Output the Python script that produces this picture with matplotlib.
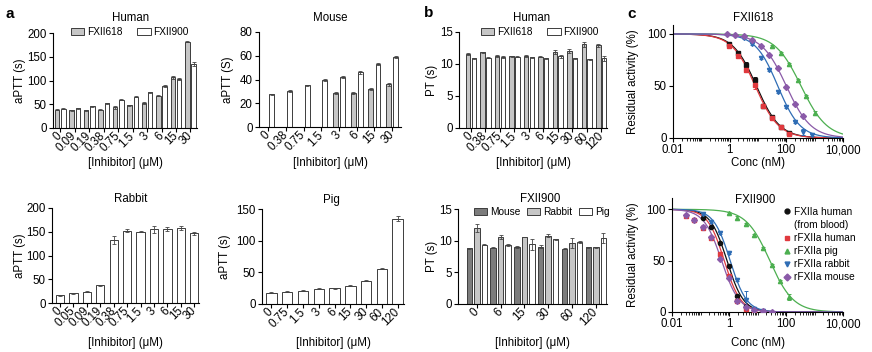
"""Inhibitor panels: clotting times (a, b) and residual FXIIa activity (c)."""

import matplotlib.pyplot as plt
import numpy as np
from matplotlib.lines import Line2D
from matplotlib.patches import Patch
from matplotlib.ticker import FixedLocator, LogLocator, NullFormatter
from matplotlib.transforms import ScaledTranslation

plt.rcParams["font.family"] = ["Liberation Sans", "DejaVu Sans"]
plt.rcParams["axes.linewidth"] = 0.8

FIG_W = 872
FIG_H = 352
TICK_FONTSIZE = 8.3
LABEL_FONTSIZE = 8.3
TITLE_FONTSIZE = 8.3
LEGEND_FONTSIZE = 7.3
LETTER_FONTSIZE = 11

GRAY = "#c6c6c6"
DARK_GRAY = "#7c7c7c"
WHITE = "#ffffff"
EDGE = "#3c3c3c"
C_BLACK = "#111111"
C_RED = "#e0393e"
C_GREEN = "#4caf50"
C_BLUE = "#2f6db5"
C_PURPLE = "#8a5aa8"

NAN = np.nan

# ---- a: aPTT ----
A_HUMAN_CONC = ["0", "0.09", "0.19", "0.38", "0.75", "1.5", "3", "6", "15", "30"]
A_HUMAN_FXII618 = [38.5, 37, 37, 38.5, 44, 48, 53, 68, 107, 182]
A_HUMAN_FXII618_ERR = [1.5, 1, 1, 1, 3, 1, 1.5, 1.5, 3, 1.5]
A_HUMAN_FXII900 = [40.5, 42, 46, 52.5, 60, 66, 75, 88, 103, 134]
A_HUMAN_FXII900_ERR = [1.5, 1, 1, 1, 1, 1, 1.5, 2, 1.5, 4]

A_MOUSE_CONC = ["0", "0.38", "0.75", "1.5", "3", "6", "15", "30"]
A_MOUSE_FXII618 = [NAN, NAN, NAN, NAN, 28.5, 28.5, 32, 36]
A_MOUSE_FXII618_ERR = [0, 0, 0, 0, 0.8, 0.6, 0.6, 1.2]
A_MOUSE_FXII900 = [27.6, 30.4, 35, 39.7, 42, 46.2, 53, 59]
A_MOUSE_FXII900_ERR = [0.6, 0.6, 0.6, 0.8, 0.8, 1.2, 1.2, 0.8]

A_RABBIT_CONC = ["0", "0.05", "0.09", "0.19", "0.38", "0.75", "1.5", "3", "6", "15", "30"]
A_RABBIT_FXII900 = [16.7, 20.9, 23.7, 37, 133, 152.5, 150.5, 155, 156, 157.5, 147]
A_RABBIT_FXII900_ERR = [1, 1, 1, 1.5, 9, 3, 1, 7, 4, 4, 3]

A_PIG_CONC = ["0", "0.75", "1.5", "3", "6", "15", "30", "60", "120"]
A_PIG_FXII900 = [18, 19.5, 21, 23.7, 24.7, 29, 37, 56, 135]
A_PIG_FXII900_ERR = [0.5, 0.5, 0.5, 0.8, 0.8, 0.5, 1, 1.5, 4]

# ---- b: PT ----
B_HUMAN_CONC = ["0", "0.38", "0.75", "1.5", "3", "6", "15", "30", "60", "120"]
B_HUMAN_FXII618 = [11.5, 11.85, 11.25, 11.2, 11.2, 11.15, 11.85, 12.0, 13.05, 12.9]
B_HUMAN_FXII618_ERR = [0.15, 0.1, 0.2, 0.1, 0.15, 0.1, 0.3, 0.3, 0.35, 0.3]
B_HUMAN_FXII900 = [10.9, 11.0, 11.1, 11.15, 11.05, 10.9, 11.2, 10.9, 10.75, 10.9]
B_HUMAN_FXII900_ERR = [0.1, 0.1, 0.1, 0.1, 0.1, 0.1, 0.25, 0.1, 0.1, 0.4]

B_FXII900_CONC = ["0", "6", "15", "30", "60", "120"]
B_MOUSE = [8.8, 8.9, 9.0, 9.05, 8.75, 8.95]
B_MOUSE_ERR = [0.1, 0.1, 0.15, 0.2, 0.1, 0.1]
B_RABBIT = [12.0, 10.6, 10.6, 10.8, 9.7, 8.95]
B_RABBIT_ERR = [0.7, 0.3, 0.05, 0.25, 0.8, 0.1]
B_PIG = [9.35, 9.3, 9.4, 10.2, 9.8, 10.4]
B_PIG_ERR = [0.1, 0.1, 0.9, 0.1, 0.2, 0.8]

# ---- c: residual activity (%) vs conc (nM) ----
C618_BLACK_X = [0.98, 1.95, 3.9, 7.8, 15.6, 31.25, 62.5, 125]
C618_BLACK_Y = [90, 81.5, 70, 56, 31, 20, 11, 5]
C618_BLACK_ERR = [1, 1.5, 3, 3, 1, 1, 1, 1]
C618_RED_X = [0.98, 1.95, 3.9, 7.8, 15.6, 31.25, 62.5, 125]
C618_RED_Y = [88.5, 79, 65.5, 51, 30.5, 19.5, 10.5, 4.2]
C618_RED_ERR = [2, 2, 2, 4, 2, 2, 1, 1]
C618_GREEN_X = [31.25, 62.5, 125, 250, 500, 1000]
C618_GREEN_Y = [88, 82, 71, 56, 40, 24]
C618_GREEN_ERR = [1, 1, 1, 1, 1, 2]
C618_BLUE_X = [3.125, 6.25, 12.5, 25, 50, 100, 200, 400, 800]
C618_BLUE_Y = [96, 90, 77, 65, 44, 30, 15, 6, 3]
C618_BLUE_ERR = [1, 1, 1, 1, 1, 1, 1, 3, 1]
C618_PURPLE_X = [0.78, 1.56, 3.125, 6.25, 12.5, 25, 50, 100, 200, 400]
C618_PURPLE_Y = [100, 99, 98, 94.5, 88, 80, 67, 49, 33, 21]
C618_PURPLE_ERR = [0.5, 0.5, 0.5, 1, 1, 1, 1, 1, 1, 1]

C900_BLACK_X = [0.12, 0.24, 0.49, 0.98, 1.95, 3.9, 7.8]
C900_BLACK_Y = [92, 83, 67, 45, 16, 6, 2]
C900_BLACK_ERR = [1, 1, 1, 1.5, 1, 1, 0.5]
C900_RED_X = [0.03, 0.06, 0.12, 0.24, 0.49, 0.98, 1.95, 3.9, 7.8, 15.6]
C900_RED_Y = [93, 90, 82, 72, 56, 35, 11, 3, 1, 0]
C900_RED_ERR = [1, 2, 2, 2, 2, 2, 2, 1, 0.5, 0.5]
C900_GREEN_X = [0.98, 1.95, 3.9, 7.8, 15.6, 31.25, 62.5, 125]
C900_GREEN_Y = [96, 92, 86, 75, 62, 46, 30, 15]
C900_GREEN_ERR = [1, 1, 1, 1, 1, 1, 1.5, 3]
C900_BLUE_X = [0.12, 0.24, 0.49, 0.98, 1.95, 3.9, 7.8, 15.6]
C900_BLUE_Y = [95, 88, 77, 57, 31, 12, 3, 1]
C900_BLUE_ERR = [1, 1, 1, 1, 1, 8, 1, 0.5]
C900_PURPLE_X = [0.03, 0.06, 0.12, 0.24, 0.49, 0.98, 1.95, 3.9, 7.8, 15.6, 31.25]
C900_PURPLE_Y = [94, 90, 83, 73, 52, 33, 11, 5, 2, 1, 0]
C900_PURPLE_ERR = [1, 1, 2, 1, 1, 1, 1, 1, 0.5, 0.5, 0.5]

# fitted curves: (IC50 nM, Hill slope)
FIT618 = {"black": (8.8, 1.05), "red": (8.0, 1.05), "green": (330, 0.95),
          "blue": (50, 1.1), "purple": (100, 1.0)}
FIT900 = {"black": (0.85, 1.5), "red": (0.68, 1.5), "green": (27, 1.05),
          "blue": (1.1, 1.5), "purple": (0.55, 1.4)}


def px_axes(fig, box):
    x0, x1, y_top, y_bot = box
    return fig.add_axes([x0 / FIG_W, 1 - y_bot / FIG_H, (x1 - x0) / FIG_W,
                         (y_bot - y_top) / FIG_H])


def decorate(ax, box, title, title_xy, xlabel, xlabel_y, ylabel, ylabel_x):
    x0, x1, y_top, y_bot = box
    w, h = x1 - x0, y_bot - y_top
    ax.set_title(title, x=(title_xy[0] - x0) / w, y=(y_bot - title_xy[1]) / h,
                 pad=0, va="center", fontsize=TITLE_FONTSIZE)
    ax.set_xlabel(xlabel, fontsize=LABEL_FONTSIZE, va="center")
    ax.xaxis.set_label_coords(0.5, (y_bot - xlabel_y) / h)
    ax.set_ylabel(ylabel, fontsize=LABEL_FONTSIZE, va="center")
    ax.yaxis.set_label_coords((ylabel_x - x0) / w, 0.5)
    ax.spines["top"].set_visible(False)
    ax.spines["right"].set_visible(False)
    ax.tick_params(labelsize=TICK_FONTSIZE, length=3, width=0.8, pad=1.5)


def draw_bars(ax, labels, series, colors, offsets, width, xlim, ylim, yticks):
    x = np.arange(len(labels))
    for (vals, errs), color, off in zip(series, colors, offsets):
        ax.bar(x + off, vals, width, color=color, edgecolor=EDGE, linewidth=0.7,
               yerr=errs, error_kw=dict(ecolor="#444444", elinewidth=0.6,
                                        capsize=1.2, capthick=0.6))
    ax.set_xticks(x)
    ax.set_xticklabels(labels, rotation=45, ha="right", va="center",
                       rotation_mode="anchor")
    shift = ScaledTranslation(4 / 100, 0, ax.figure.dpi_scale_trans)
    for lab in ax.get_xticklabels():
        lab.set_transform(lab.get_transform() + shift)
    ax.set_xlim(*xlim)
    ax.set_ylim(*ylim)
    ax.set_yticks(yticks)


def bar_legend(ax, labels, colors, anchor_px, colspacing):
    handles = [Patch(facecolor=c, edgecolor=EDGE, linewidth=0.7) for c in colors]
    ax.legend(handles, labels, loc="center left",
              bbox_to_anchor=(anchor_px[0] / FIG_W, 1 - anchor_px[1] / FIG_H),
              bbox_transform=ax.figure.transFigure, ncol=len(labels), frameon=False,
              fontsize=LEGEND_FONTSIZE, handlelength=1.3, handleheight=0.7,
              handletextpad=0.25, columnspacing=colspacing, borderpad=0,
              borderaxespad=0)


def hill(conc, ic50, slope):
    return 100 / (1 + (conc / ic50) ** slope)


CURVE_X = np.logspace(-2, 4, 400)


def dose_panel(ax, sets, fits):
    for key, color, marker, xs, ys, errs in sets:
        ax.plot(CURVE_X, hill(CURVE_X, *fits[key]), color=color, lw=0.9, zorder=2)
        ax.errorbar(xs, ys, yerr=errs, fmt=marker, color=color, ms=3.0,
                    elinewidth=0.7, capsize=1.5, capthick=0.7, zorder=3)
    ax.set_xscale("log")
    ax.set_xlim(0.01, 10000)
    ax.xaxis.set_major_locator(FixedLocator([0.01, 1, 100, 10000]))
    ax.set_xticklabels(["0.01", "1", "100", "10,000"])
    ax.xaxis.set_minor_locator(LogLocator(base=10, subs=np.arange(1, 10), numticks=20))
    ax.xaxis.set_minor_formatter(NullFormatter())
    ax.set_yticks([0, 50, 100])


fig = plt.figure(figsize=(FIG_W / 100, FIG_H / 100), dpi=100)

INHIB = "[Inhibitor] (\u03bcM)"

# a Human
box = (53, 197, 33, 128)
ax = px_axes(fig, box)
draw_bars(ax, A_HUMAN_CONC,
          [(A_HUMAN_FXII618, A_HUMAN_FXII618_ERR), (A_HUMAN_FXII900, A_HUMAN_FXII900_ERR)],
          [GRAY, WHITE], [-0.22, 0.22], 0.31, (-0.5, 9.45), (0, 200), [0, 50, 100, 150, 200])
decorate(ax, box, "Human", (131, 18), INHIB, 163, "aPTT (s)", 20)
bar_legend(ax, ["FXII618", "FXII900"], [GRAY, WHITE], (71, 32), 1.5)

# a Mouse
box = (259, 401, 32, 127)
ax = px_axes(fig, box)
draw_bars(ax, A_MOUSE_CONC,
          [(A_MOUSE_FXII618, A_MOUSE_FXII618_ERR), (A_MOUSE_FXII900, A_MOUSE_FXII900_ERR)],
          [GRAY, WHITE], [-0.2, 0.2], 0.28, (-0.53, 7.5), (0, 80), [0, 20, 40, 60, 80])
decorate(ax, box, "Mouse", (330, 18), INHIB, 163, "aPTT (S)", 228)

# a Rabbit
box = (52, 199, 208, 303)
ax = px_axes(fig, box)
draw_bars(ax, A_RABBIT_CONC, [(A_RABBIT_FXII900, A_RABBIT_FXII900_ERR)],
          [WHITE], [0], 0.62, (-0.6, 10.35), (0, 200), [0, 50, 100, 150, 200])
decorate(ax, box, "Rabbit", (131, 199), INHIB, 343, "aPTT (s)", 20)

# a Pig
box = (262, 404, 209, 304)
ax = px_axes(fig, box)
draw_bars(ax, A_PIG_CONC, [(A_PIG_FXII900, A_PIG_FXII900_ERR)],
          [WHITE], [0], 0.66, (-0.6, 8.4), (0, 150), [0, 50, 100, 150])
decorate(ax, box, "Pig", (331, 200), INHIB, 343, "aPTT (s)", 225)

# b Human
box = (459, 607, 32, 128)
ax = px_axes(fig, box)
draw_bars(ax, B_HUMAN_CONC,
          [(B_HUMAN_FXII618, B_HUMAN_FXII618_ERR), (B_HUMAN_FXII900, B_HUMAN_FXII900_ERR)],
          [GRAY, WHITE], [-0.2, 0.2], 0.31, (-0.83, 9.4), (0, 15), [0, 5, 10, 15])
decorate(ax, box, "Human", (532, 18), INHIB, 163, "PT (s)", 432)
bar_legend(ax, ["FXII618", "FXII900"], [GRAY, WHITE], (481, 32), 1.5)

# b FXII900
box = (458, 607, 209, 304)
ax = px_axes(fig, box)
draw_bars(ax, B_FXII900_CONC,
          [(B_MOUSE, B_MOUSE_ERR), (B_RABBIT, B_RABBIT_ERR), (B_PIG, B_PIG_ERR)],
          [DARK_GRAY, GRAY, WHITE], [-0.315, 0, 0.315], 0.23, (-0.79, 5.47), (0, 15),
          [0, 5, 10, 15])
decorate(ax, box, "FXII900", (540, 199), INHIB, 343, "PT (s)", 432)
bar_legend(ax, ["Mouse", "Rabbit", "Pig"], [DARK_GRAY, GRAY, WHITE], (474, 212), 0.7)

# c FXII618
box = (673, 843, 25, 138)
ax = px_axes(fig, box)
dose_panel(ax, [
    ("black", C_BLACK, "s", C618_BLACK_X, C618_BLACK_Y, C618_BLACK_ERR),
    ("red", C_RED, "s", C618_RED_X, C618_RED_Y, C618_RED_ERR),
    ("green", C_GREEN, "^", C618_GREEN_X, C618_GREEN_Y, C618_GREEN_ERR),
    ("blue", C_BLUE, "v", C618_BLUE_X, C618_BLUE_Y, C618_BLUE_ERR),
    ("purple", C_PURPLE, "D", C618_PURPLE_X, C618_PURPLE_Y, C618_PURPLE_ERR),
], FIT618)
ax.set_ylim(0, 108.6)
decorate(ax, box, "FXII618", (753, 18), "Conc (nM)", 163, "Residual activity (%)", 633)
ax.tick_params(axis="x", which="minor", length=1.8, width=0.6)

# c FXII900
box = (672, 843, 198, 312)
ax = px_axes(fig, box)
dose_panel(ax, [
    ("black", C_BLACK, "o", C900_BLACK_X, C900_BLACK_Y, C900_BLACK_ERR),
    ("red", C_RED, "s", C900_RED_X, C900_RED_Y, C900_RED_ERR),
    ("green", C_GREEN, "^", C900_GREEN_X, C900_GREEN_Y, C900_GREEN_ERR),
    ("blue", C_BLUE, "v", C900_BLUE_X, C900_BLUE_Y, C900_BLUE_ERR),
    ("purple", C_PURPLE, "D", C900_PURPLE_X, C900_PURPLE_Y, C900_PURPLE_ERR),
], FIT900)
ax.set_ylim(0, 111)
decorate(ax, box, "FXII900", (755, 200), "Conc (nM)", 343, "Residual activity (%)", 633)
ax.tick_params(axis="x", which="minor", length=1.8, width=0.6)

legend_items = [
    (C_BLACK, "o", "FXIIa human"),
    ("none", "o", "(from blood)"),
    (C_RED, "s", "rFXIIa human"),
    (C_GREEN, "^", "rFXIIa pig"),
    (C_BLUE, "v", "rFXIIa rabbit"),
    (C_PURPLE, "D", "rFXIIa mouse"),
]
handles = [Line2D([0], [0], linestyle="none", marker=m, color=c, markersize=3.5)
           for c, m, _ in legend_items]
ax.legend(handles, [t for _, _, t in legend_items], loc="upper left",
          bbox_to_anchor=(783 / FIG_W, 1 - 207 / FIG_H), bbox_transform=fig.transFigure,
          frameon=False, fontsize=LEGEND_FONTSIZE, handlelength=0.8, handletextpad=0.3,
          labelspacing=0.3, borderpad=0, borderaxespad=0)

for letter, (lx, ly) in {"a": (10, 14), "b": (429, 13), "c": (632, 14)}.items():
    fig.text(lx / FIG_W, 1 - ly / FIG_H, letter, fontsize=LETTER_FONTSIZE,
             fontweight="bold", ha="center", va="center")

fig.savefig("out.png", dpi=100)
